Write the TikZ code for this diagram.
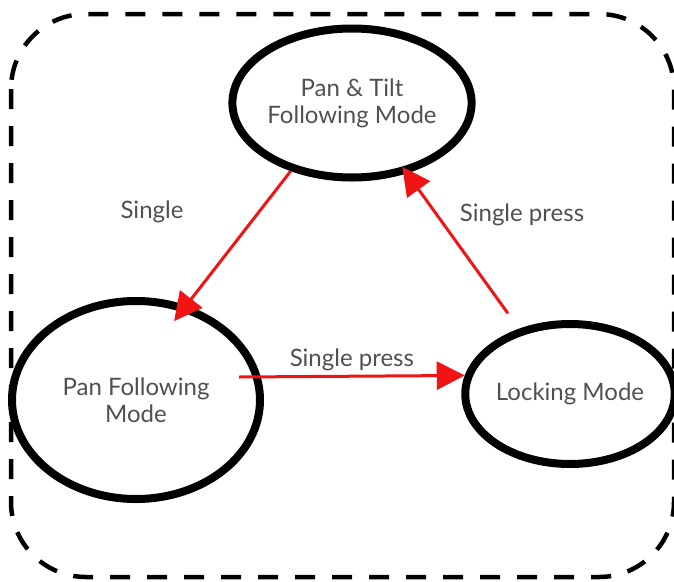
\documentclass[tikz,border=0pt]{standalone}
\usepackage{fontspec}
\setmainfont{Lato}
\usetikzlibrary{arrows.meta,shapes.geometric}

\definecolor{modetext}{RGB}{80,80,80}
\definecolor{transred}{RGB}{240,20,20}

\tikzset{
    mode/.style={draw, ellipse, line width=8pt, inner sep=0pt, align=center, text=modetext},
    trans/.style={draw=transred, line width=3pt, -{Triangle[length=28pt,width=28pt]}},
    lbl/.style={text=modetext}
}

\begin{document}
\begin{tikzpicture}[x=1pt, y=-1pt, font=\fontsize{24}{27}\selectfont]
    \useasboundingbox (0,0) rectangle (674,581);
    % dashed frame
    \draw[line width=4.5pt, dash pattern=on 20pt off 17pt, rounded corners=75pt] (11,14) rectangle (674,577);
    % modes
    \node[mode, minimum width=226pt, minimum height=149pt] (tilt) at (352,103) {Pan \& Tilt\\Following Mode};
    \node[mode, minimum width=248pt, minimum height=198pt] (pan) at (136,400) {Pan Following\\Mode};
    \node[mode, minimum width=197pt, minimum height=140pt] (lock) at (570,394) {Locking Mode};
    % transitions
    \draw[trans] ([xshift=-25pt,yshift=23pt]pan.east) -- (lock.170) node[lbl, midway, above, inner sep=4pt] (press1) {Single press};
    \draw[trans, shorten >=-20pt] (tilt.228) -- (pan.62);
    \draw[trans, shorten <=19pt, shorten >=-8pt] (lock.128) -- (tilt.308);
    \node[lbl] (single) at (152,212) {Single};
    \node[lbl] (press2) at (522,215) {Single press};
\end{tikzpicture}
\end{document}
